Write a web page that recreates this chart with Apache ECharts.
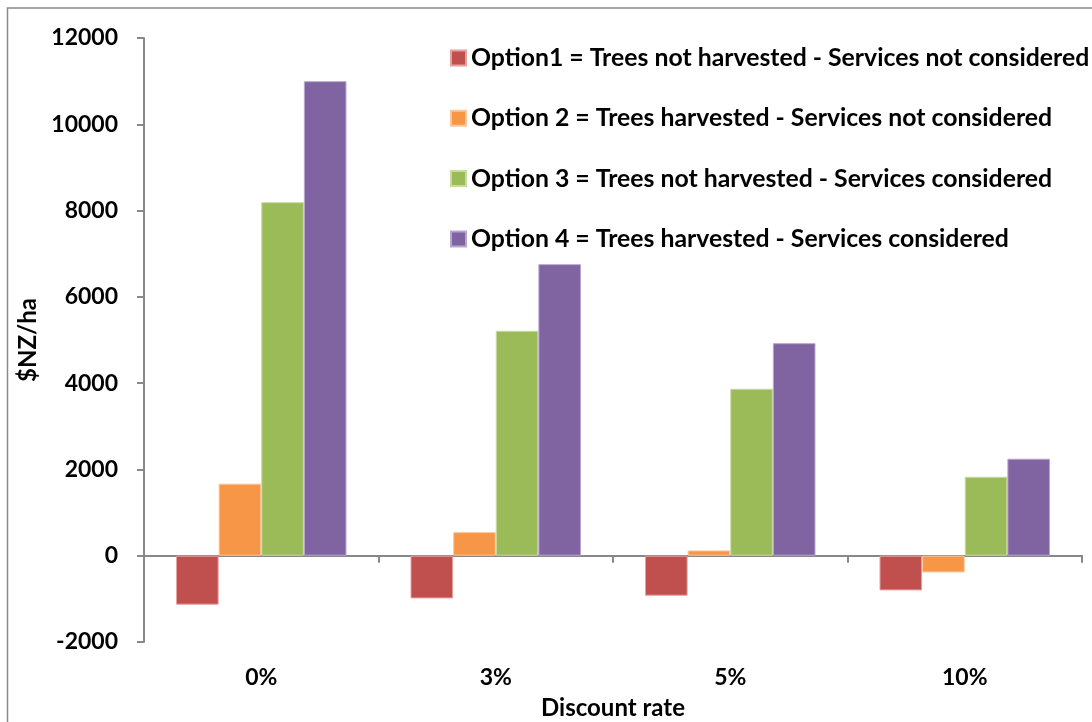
<!DOCTYPE html>
<html>
<head>
<meta charset="utf-8">
<script src="https://cdn.jsdelivr.net/npm/echarts@6/dist/echarts.min.js"></script>
<style>
  html, body { margin: 0; padding: 0; background: #fff; }
  #chart { width: 1092px; height: 722px; }
</style>
</head>
<body>
<div id="chart"></div>
<script>
// Discount rates on the category axis
const categories = ['0%', '3%', '5%', '10%'];

// Net value per hectare ($NZ/ha) for each management option
const option1 = [-1135, -990, -927, -804];
const option2 = [1670, 547, 123, -387];
const option3 = [8195, 5214, 3870, 1831];
const option4 = [11000, 6758, 4927, 2248];

const seriesNames = [
  'Option1 = Trees not harvested - Services not considered',
  'Option 2 = Trees harvested - Services not considered',
  'Option 3 = Trees not harvested - Services considered',
  'Option 4 = Trees harvested - Services considered'
];
const seriesValues = [option1, option2, option3, option4];
const colors = ['#C0504D', '#F79646', '#9BBB59', '#8064A2'];
const borderColors = ['#E6A09E', '#FBC79F', '#C9DAA8', '#B8A7CD'];

// Y axis ticks
const yMin = -2000, yMax = 12000, yStep = 2000;

const FONT = 'Lato';
const axisGray = '#888888';

const chart = echarts.init(document.getElementById('chart'), null, { renderer: 'canvas' });

chart.setOption({
  animation: false,
  backgroundColor: '#ffffff',
  textStyle: { fontFamily: FONT, color: '#000' },
  grid: { left: 144, right: 10, top: 38, bottom: 80, containLabel: false, outerBoundsMode: 'none' },
  legend: {
    orient: 'vertical',
    left: 450,
    top: 45,
    padding: 0,
    itemWidth: 15,
    itemHeight: 15,
    itemGap: 34.3,
    icon: 'rect',
    data: seriesNames,
    textStyle: { fontFamily: FONT, fontWeight: 'bold', fontSize: 24.8, color: '#000', lineHeight: 26 }
  },
  xAxis: [
    {
      // zero line with boundary ticks
      type: 'category',
      data: categories,
      axisLine: { onZero: true, lineStyle: { color: axisGray, width: 2 } },
      axisTick: { show: true, length: 7, alignWithLabel: false, lineStyle: { color: axisGray, width: 2 } },
      axisLabel: { show: false },
      splitLine: { show: false }
    },
    {
      // category labels and title along the bottom edge
      type: 'category',
      data: categories,
      position: 'bottom',
      axisLine: { show: false, onZero: false },
      axisTick: { show: false },
      axisLabel: { margin: 24, fontFamily: FONT, fontWeight: 'bold', fontSize: 23, color: '#000' },
      name: 'Discount rate',
      nameLocation: 'middle',
      nameGap: 54,
      nameTextStyle: { fontFamily: FONT, fontWeight: 'bold', fontSize: 24, color: '#000' }
    }
  ],
  yAxis: {
    type: 'value',
    min: yMin,
    max: yMax,
    interval: yStep,
    name: '$NZ/ha',
    nameLocation: 'middle',
    nameGap: 97,
    nameTextStyle: { fontFamily: FONT, fontWeight: 'bold', fontSize: 24, color: '#000' },
    axisLine: { show: true, lineStyle: { color: axisGray, width: 2 } },
    axisTick: { show: true, length: 7, lineStyle: { color: axisGray, width: 2 } },
    axisLabel: {
      margin: 26,
      fontFamily: FONT,
      fontWeight: 'bold',
      fontSize: 23,
      color: '#000',
      formatter: (v) => String(v)
    },
    splitLine: { show: false }
  },
  graphic: [
    {
      type: 'rect',
      silent: true,
      z: -1,
      shape: { x: 7.5, y: 8, width: 1200, height: 800 },
      style: { fill: 'none', stroke: '#8a8a8a', lineWidth: 1.5 }
    }
  ],
  series: seriesValues.map((vals, i) => ({
    name: seriesNames[i],
    type: 'bar',
    xAxisIndex: 0,
    data: vals,
    barGap: '0%',
    barCategoryGap: '27.3%',
    itemStyle: { color: colors[i], borderColor: borderColors[i], borderWidth: 1 }
  }))
});
</script>
</body>
</html>
